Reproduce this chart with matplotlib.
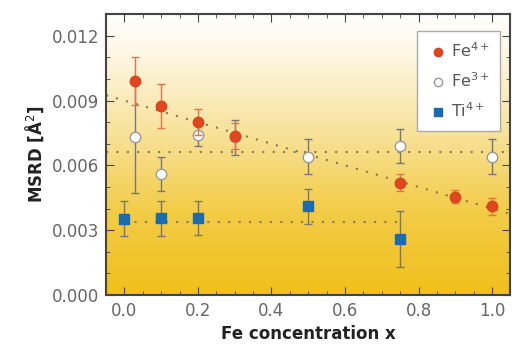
import numpy as np
import matplotlib

matplotlib.use("Agg")

import matplotlib.pyplot as plt
from matplotlib.colors import LinearSegmentedColormap
from matplotlib.ticker import MultipleLocator

# Fe4+
fe4_x = [0.03, 0.1, 0.2, 0.3, 0.75, 0.9, 1.0]
fe4_y = [0.0099, 0.00875, 0.0080, 0.00735, 0.0052, 0.00455, 0.0041]
fe4_err = [0.0011, 0.0010, 0.0006, 0.0006, 0.0004, 0.0003, 0.0004]

# Fe3+
fe3_x = [0.03, 0.1, 0.2, 0.3, 0.5, 0.75, 1.0]
fe3_y = [0.0073, 0.0056, 0.0074, 0.0073, 0.0064, 0.0069, 0.0064]
fe3_err = [0.0026, 0.0008, 0.0005, 0.0008, 0.0008, 0.0008, 0.0008]

# Ti4+
ti_x = [0.0, 0.1, 0.2, 0.5, 0.75]
ti_y = [0.00353, 0.00355, 0.00357, 0.0041, 0.0026]
ti_err = [0.0008, 0.0008, 0.0008, 0.0008, 0.0013]

# guide lines
fe4_fit = (0.0090, -0.0050)
fe3_level = 0.0066
ti_level = 0.0034
ti_level_span = (0.0, 0.75)

x_ticks = [0.0, 0.2, 0.4, 0.6, 0.8, 1.0]
y_ticks = [0.0, 0.003, 0.006, 0.009, 0.012]

XLIM = (-0.05, 1.05)
YLIM = (0.0, 0.013)

fig = plt.figure(figsize=(5.12, 3.45), dpi=100)
ax = fig.add_axes([0.207, 0.145, 0.79, 0.814])

# background gradient, white at top to gold at bottom
cmap = LinearSegmentedColormap.from_list(
    "gold", [(0.0, "#f0c01a"), (0.3, "#f3cc48"), (0.6, "#f8e4a0"), (0.85, "#fdf6e2"), (1.0, "#ffffff")]
)
grad = np.linspace(0, 1, 256).reshape(-1, 1)
ax.imshow(grad, aspect="auto", cmap=cmap, origin="lower",
          extent=[XLIM[0], XLIM[1], YLIM[0], YLIM[1]], zorder=0)

dot_color = "#8a7a50"
xs = np.array(XLIM)
ax.plot(xs, fe4_fit[0] + fe4_fit[1] * xs, ls=(0, (1, 4)), color=dot_color, lw=1.5, zorder=1)
ax.plot(xs, [fe3_level, fe3_level], ls=(0, (1, 4)), color=dot_color, lw=1.5, zorder=1)
ax.plot(ti_level_span, [ti_level, ti_level], ls=(0, (1, 4)), color=dot_color, lw=1.5, zorder=1)

ax.errorbar(fe3_x, fe3_y, yerr=fe3_err, fmt="o", ms=7.5, mfc="white", mec="#999999",
            mew=1, ecolor="#777777", elinewidth=1, capsize=3, label="Fe$^{3+}$", zorder=3)
ax.errorbar(fe4_x, fe4_y, yerr=fe4_err, fmt="o", ms=7.5, mfc="#e2461f", mec="#d8441c",
            ecolor="#e8704a", elinewidth=1, capsize=3, label="Fe$^{4+}$", zorder=4)
ax.errorbar(ti_x, ti_y, yerr=ti_err, fmt="s", ms=7.5, mfc="#1b6bb0", mec="#1b6bb0",
            ecolor="#777777", elinewidth=1, capsize=3, label="Ti$^{4+}$", zorder=4)

ax.set_xlim(*XLIM)
ax.set_ylim(*YLIM)
ax.set_xticks(x_ticks)
ax.set_yticks(y_ticks)
ax.set_xticklabels([f"{v:.1f}" for v in x_ticks])
ax.set_yticklabels([f"{v:.3f}" for v in y_ticks])
ax.xaxis.set_minor_locator(MultipleLocator(0.05))
ax.yaxis.set_minor_locator(MultipleLocator(0.001))
ax.tick_params(which="both", direction="in", top=True, right=True, color="#444444")
ax.tick_params(which="major", length=6, labelsize=12, labelcolor="#666666", pad=5)
ax.tick_params(which="minor", length=3)
for s in ax.spines.values():
    s.set_color("#444444")
    s.set_linewidth(1.5)

ax.set_xlabel("Fe concentration x", fontsize=12, fontweight="bold", color="#222222")
ax.set_ylabel("MSRD [Å$^2$]", fontsize=12, fontweight="bold", color="#222222")

handles, labels = ax.get_legend_handles_labels()
order = [1, 0, 2]
leg = ax.legend([handles[i][0] for i in order], [labels[i] for i in order],
                loc="upper right", bbox_to_anchor=(0.995, 0.97), fontsize=11.5,
                frameon=True, fancybox=False, framealpha=1, handletextpad=0.2,
                handlelength=1.2, markerscale=0.8, labelspacing=0.7,
                borderpad=0.7, labelcolor="#555555")
leg.get_frame().set_edgecolor("#aaaaaa")
leg.get_frame().set_linewidth(1)

fig.savefig("out.png", dpi=100)
